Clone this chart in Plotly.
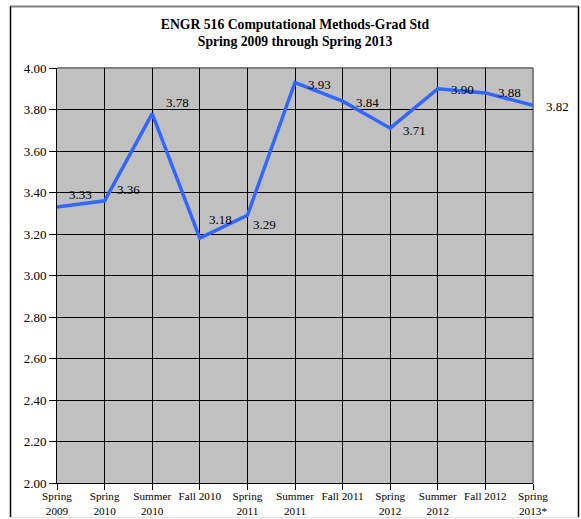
import plotly.graph_objects as go

terms = ["Spring<br>2009", "Spring<br>2010", "Summer<br>2010", "Fall 2010", "Spring<br>2011",
         "Summer<br>2011", "Fall 2011", "Spring<br>2012", "Summer<br>2012", "Fall 2012", "Spring<br>2013*"]
gpa = [3.33, 3.36, 3.78, 3.18, 3.29, 3.93, 3.84, 3.71, 3.90, 3.88, 3.82]
y_ticks = [2.00, 2.20, 2.40, 2.60, 2.80, 3.00, 3.20, 3.40, 3.60, 3.80, 4.00]

# label offsets (pixels) relative to each point
label_dx = [23.5, 24, 25, 20.5, 17, 24.5, 24.5, 24, 24.5, 24, 24]
label_dy = [13, 11, 11, 19, -9, -1.5, -1.5, -2, -1, 0, -1]

serif = "Liberation Serif, Times New Roman, serif"

fig = go.Figure()
fig.add_trace(go.Scatter(
    x=terms, y=gpa, mode="lines",
    line=dict(color="#3366FF", width=3.5),
    hoverinfo="skip", cliponaxis=False,
))

for t, v, dx, dy in zip(terms, gpa, label_dx, label_dy):
    fig.add_annotation(x=t, y=v, text=f"{v:.2f}", showarrow=False,
                       xanchor="center", yanchor="middle",
                       xshift=dx, yshift=dy,
                       font=dict(family=serif, size=13, color="black"))

W, H = 581, 519
ml, mr, mt, mb = 57, 48, 68, 36
pw, ph = W - ml - mr, H - mt - mb

def px(xp):
    return (xp - ml) / pw

def py(yp):
    return (H - mb - yp) / ph

shapes = [
    # gray top and right plot border
    dict(type="line", xref="paper", yref="paper", x0=0, x1=1, y0=1, y1=1,
         line=dict(color="#808080", width=2), layer="between"),
    dict(type="line", xref="paper", yref="paper", x0=1, x1=1, y0=0, y1=1,
         line=dict(color="#808080", width=2), layer="between"),
    # outer frame
    dict(type="line", xref="paper", yref="paper", x0=px(10), x1=px(579), y0=py(6.5), y1=py(6.5),
         line=dict(color="#808080", width=2), layer="above"),
    dict(type="line", xref="paper", yref="paper", x0=px(10.5), x1=px(10.5), y0=py(6.5), y1=py(517.5),
         line=dict(color="black", width=1.5), layer="above"),
    dict(type="line", xref="paper", yref="paper", x0=px(578.5), x1=px(578.5), y0=py(6.5), y1=py(517.5),
         line=dict(color="black", width=1.5), layer="above"),
    dict(type="line", xref="paper", yref="paper", x0=px(10), x1=px(579), y0=py(517.5), y1=py(517.5),
         line=dict(color="#E0E0E0", width=1), layer="above"),
]

fig.update_layout(
    width=W, height=H,
    margin=dict(l=ml, r=mr, t=mt, b=mb, autoexpand=False),
    paper_bgcolor="white",
    plot_bgcolor="#C0C0C0",
    showlegend=False,
    title=dict(
        text="<b>ENGR 516 Computational Methods-Grad Std<br>Spring 2009 through Spring 2013</b>",
        x=0.5, xref="paper", xanchor="center",
        y=1 - 28.5 / H, yref="container", yanchor="middle",
        font=dict(family=serif, size=13.7, color="black"),
    ),
    xaxis=dict(
        type="category", range=[0, len(terms) - 1],
        automargin=False,
        showgrid=True, gridcolor="black", gridwidth=1,
        showline=True, linecolor="black", linewidth=1,
        ticks="outside", ticklen=6, tickcolor="black",
        ticklabelstandoff=-3,
        tickfont=dict(family=serif, size=11.2, color="black"),
        tickangle=0, fixedrange=True,
    ),
    yaxis=dict(
        range=[2.0, 4.0], tickvals=y_ticks,
        ticktext=[f"{v:.2f}" for v in y_ticks],
        automargin=False,
        showgrid=True, gridcolor="black", gridwidth=1,
        showline=True, linecolor="black", linewidth=1,
        zeroline=False,
        ticks="outside", ticklen=7, tickcolor="black",
        tickfont=dict(family=serif, size=13, color="black"),
        fixedrange=True,
    ),
    shapes=shapes,
)

fig.write_html(
    "out.html",
    config={"displayModeBar": False},
    post_script="document.body.style.margin='0';document.body.style.overflow='hidden';",
)
